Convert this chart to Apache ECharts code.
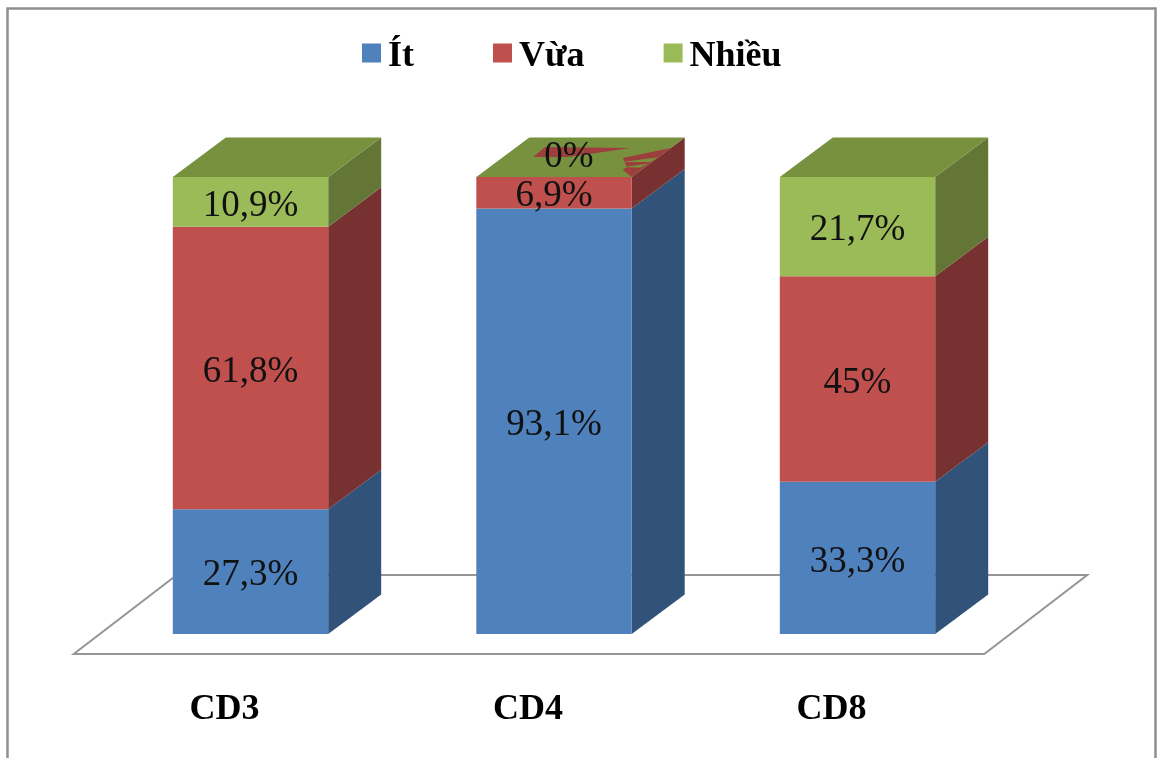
<!DOCTYPE html>
<html>
<head>
<meta charset="utf-8">
<style>html,body{margin:0;padding:0;background:#fff}#chart{width:1157px;height:758px}</style>
<script src="https://cdn.jsdelivr.net/npm/echarts@6/dist/echarts.min.js"></script>
</head>
<body>
<div id="chart"></div>
<script>
// Tỉ lệ biểu hiện CD3, CD4, CD8 theo mức độ (%)
const categories = ['CD3', 'CD4', 'CD8'];
const itValues = [27.3, 93.1, 33.3];
const vuaValues = [61.8, 6.9, 45];
const nhieuValues = [10.9, 0, 21.7];
const seriesNames = ['Ít', 'Vừa', 'Nhiều'];

const serifFont = '"Liberation Serif", "Times New Roman", serif';
const frontColors = ['#4f81bd', '#c0504d', '#9bbb59'];
const sideColors = ['#31537a', '#773130', '#637636'];
const topColor = '#77913f';
const patchRed = '#9d403d';

// Oblique projection of the box depth, in pixels
const depthX = 53;
const depthY = -39.5;
const barRatio = 0.512;
const labelDrop = 4;

// Patches on the lid of a zero-height segment, in lid units (across, along depth)
const lidPatches = [
  { fill: patchRed, pts: [[0.193, 0.506], [0.184, 0.759], [0.744, 0.734], [0.418, 0.506]] },
  { fill: patchRed, pts: [[0.779, 0.481], [1, 0.734], [1, 0], [0.882, 0.177], [0.882, 0.253]] },
  { fill: topColor, pts: [[0.81, 0.38], [1, 0.5], [0.99, 0.38]] },
  { fill: topColor, pts: [[0.86, 0.25], [0.99, 0.34], [0.975, 0.24]] }
];

function formatPercent(v) {
  return String(v).replace('.', ',') + '%';
}

function stackedRows(values, below) {
  return values.map((v, i) => [i, below[i], below[i] + v, v]);
}

function renderSegment(seriesIndex) {
  return function (params, api) {
    const idx = api.value(0);
    const start = api.value(1);
    const end = api.value(2);
    const value = api.value(3);
    const bottom = api.coord([idx, start]);
    const top = api.coord([idx, end]);
    const w = api.size([1, 0])[0] * barRatio;
    const x0 = bottom[0] - w / 2;
    const x1 = bottom[0] + w / 2;
    const yb = bottom[1];
    const yt = top[1];
    const children = [
      {
        type: 'polygon',
        shape: { points: [[x1, yb], [x1 + depthX, yb + depthY], [x1 + depthX, yt + depthY], [x1, yt]] },
        style: { fill: sideColors[seriesIndex] }
      },
      {
        type: 'rect',
        shape: { x: x0, y: yt, width: w, height: yb - yt },
        style: { fill: frontColors[seriesIndex] }
      }
    ];
    if (seriesIndex === 2) {
      const lid = (u, v) => [x0 + u * w + v * depthX, yt + v * depthY];
      children.push({
        type: 'polygon',
        shape: { points: [lid(0, 0), lid(1, 0), lid(1, 1), lid(0, 1)] },
        style: { fill: topColor }
      });
      if (value === 0) {
        lidPatches.forEach((p) => {
          children.push({
            type: 'polygon',
            shape: { points: p.pts.map((q) => lid(q[0], q[1])) },
            style: { fill: p.fill }
          });
        });
      }
    }
    // A zero-height segment has its label sitting on the lid
    const labelX = value === 0 ? (x0 + x1) / 2 + 15 : (x0 + x1) / 2;
    const labelY = (value === 0 ? yt - 24 : (yt + yb) / 2) + labelDrop;
    children.push({
      type: 'text',
      style: {
        text: formatPercent(value),
        x: labelX,
        y: labelY,
        align: 'center',
        verticalAlign: 'middle',
        fill: '#111',
        font: '37px ' + serifFont
      }
    });
    return { type: 'group', children };
  };
}

function renderFloor(params, api) {
  const c = params.coordSys;
  const base = c.y + c.height + 20;
  const left = c.x - 25;
  const right = c.x + c.width - 25;
  return {
    type: 'polygon',
    silent: true,
    shape: { points: [[left, base], [right, base], [right + 103, base - 79], [left + 103, base - 79]] },
    style: { fill: '#fff', stroke: '#969696', lineWidth: 2 }
  };
}

const belowVua = itValues;
const belowNhieu = itValues.map((v, i) => v + vuaValues[i]);
const rows = [
  stackedRows(itValues, [0, 0, 0]),
  stackedRows(vuaValues, belowVua),
  stackedRows(nhieuValues, belowNhieu)
];

const chart = echarts.init(document.getElementById('chart'), null, { renderer: 'canvas' });
chart.setOption({
  animation: false,
  backgroundColor: '#fff',
  color: frontColors,
  graphic: [{
    type: 'rect',
    silent: true,
    shape: { x: 7.5, y: 8.5, width: 1148, height: 800 },
    style: { fill: 'none', stroke: '#8f8f8f', lineWidth: 2.5 },
    z: 0
  }],
  legend: {
    data: seriesNames,
    left: 357,
    top: 34,
    icon: 'rect',
    itemWidth: 19,
    itemHeight: 19,
    itemGap: 79,
    selectedMode: false,
    formatter: '{t|{name}}',
    textStyle: {
      rich: {
        t: { fontFamily: serifFont, fontWeight: 'bold', fontSize: 36, color: '#000', padding: [8, 0, 0, 2] }
      }
    }
  },
  grid: { left: 98.75, width: 910.5, top: 177, height: 457 },
  xAxis: {
    type: 'category',
    data: categories,
    axisLine: { show: false },
    axisTick: { show: false },
    axisLabel: {
      margin: 58,
      padding: [0, 52, 0, 0],
      fontFamily: serifFont,
      fontWeight: 'bold',
      fontSize: 36,
      color: '#000'
    }
  },
  yAxis: { type: 'value', min: 0, max: 100, show: false },
  series: [
    { name: 'floor', type: 'custom', z: 1, renderItem: renderFloor, data: [[0, 0]], silent: true },
    ...seriesNames.map((name, i) => ({
      name,
      type: 'custom',
      z: 2,
      renderItem: renderSegment(i),
      encode: { x: 0, y: [1, 2] },
      itemStyle: { color: frontColors[i] },
      data: rows[i]
    }))
  ]
});
</script>
</body>
</html>
